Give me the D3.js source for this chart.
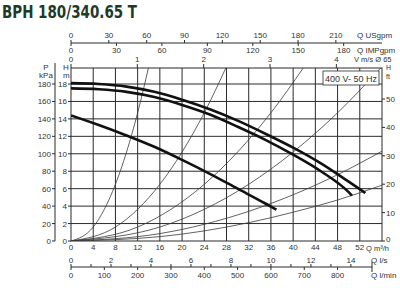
<!DOCTYPE html>
<html>
<head>
<meta charset="utf-8">
<script src="https://cdn.jsdelivr.net/npm/d3@7"></script>
<style>
  body { margin: 0; background: #fff; }
  svg { display: block; }
  text { font-family: "Liberation Sans", Arial, sans-serif; fill: #333; }
</style>
</head>
<body>
<svg id="chart" width="400" height="288"></svg>
<script>
// pump curves, [Q m3/h, H m]
const curveTop = [[0, 18.1], [5, 18.0], [10, 17.7], [15, 17.1], [20, 16.2], [25, 15.1], [30, 13.8], [35, 12.3], [40, 10.7], [45, 8.9], [50, 6.8], [53, 5.5]];
const curveMid = [[0, 17.5], [5, 17.4], [10, 17.1], [15, 16.5], [20, 15.6], [25, 14.5], [30, 13.1], [35, 11.6], [40, 9.9], [45, 8.0], [50, 5.6], [50.6, 5.2]];
const curveLow = [[0, 14.4], [5, 13.3], [10, 12.1], [15, 10.8], [20, 9.3], [25, 7.7], [30, 6.0], [35, 4.3], [37, 3.6]];

// thin system curves from the origin
const sysCurves = [
  [[0, 0], [4, 1.6], [8, 6.5], [10, 10.2], [12, 14.7], [14, 20]],
  [[0, 0], [8, 1.6], [16, 6.5], [20, 10.2], [24, 14.7], [28, 20]],
  [[0, 0], [12, 1.6], [24, 6.5], [30, 10.2], [36, 14.7], [42, 20]],
  [[0, 0], [16, 1.6], [32, 6.5], [40, 10.2], [48, 14.7], [56, 20]],
  [[0, 0], [16, 0.85], [32, 3.4], [40, 5.3], [48, 7.6], [56, 10.3]],
  [[0, 0], [16, 0.5], [32, 2.1], [40, 3.3], [48, 4.7], [56, 6.4]]
];

const qTicks = [0, 4, 8, 12, 16, 20, 24, 28, 32, 36, 40, 44, 48, 52];
const hTicks = [0, 2, 4, 6, 8, 10, 12, 14, 16, 18];
const kpaTicks = [0, 20, 40, 60, 80, 100, 120, 140, 160, 180];
const ftTicks = [0, 10, 20, 30, 40, 50];
const usTicks = [0, 30, 60, 90, 120, 150, 180, 210];
const impTicks = [0, 30, 60, 90, 120, 150, 180];
const velTicks = [0, 1, 2, 3, 4];
const lsTicks = [0, 2, 4, 6, 8, 10, 12, 14];
const lsMinor = [1, 3, 5, 7, 9, 11, 13];
const lminTicks = [0, 100, 200, 300, 400, 500, 600, 700, 800];

const Q_MAX = 56;
const svg = d3.select("#chart");

const x = d3.scaleLinear().domain([0, Q_MAX]).range([71, 382]);
const y = d3.scaleLinear().domain([0, 18]).range([241, 84]);
const yKpa = d3.scaleLinear().domain([0, 180]).range([241, 84]);
const yFt = d3.scaleLinear().domain([0, 50]).range([241, 99]);
const xUs = d3.scaleLinear().domain([0, Q_MAX * 4.403]).range(x.range());
const xImp = d3.scaleLinear().domain([0, Q_MAX * 3.666]).range(x.range());
const xVel = d3.scaleLinear().domain([0, Q_MAX / 11.946]).range(x.range());
const xLs = d3.scaleLinear().domain([0, Q_MAX / 3.6]).range(x.range());
const xLmin = d3.scaleLinear().domain([0, Q_MAX / 0.06]).range(x.range());

const pTop = 68, pBottom = 241, pLeft = 71, pRight = 382;
const ink = "#2b2b2b";

// title
svg.append("text").attr("x", 2).attr("y", 18)
  .attr("textLength", 135).attr("lengthAdjust", "spacingAndGlyphs")
  .style("font-family", "'Liberation Sans Narrow', 'DejaVu Sans Condensed', sans-serif")
  .style("font-weight", "bold").style("font-size", "17px").style("fill", "#203a29")
  .text("BPH 180/340.65 T");

// grid
const grid = svg.append("g").attr("stroke", ink).attr("stroke-width", 1);
grid.selectAll(".vg").data(qTicks.slice(1)).join("line")
  .attr("x1", d => x(d)).attr("x2", d => x(d)).attr("y1", pTop).attr("y2", pBottom);
grid.selectAll(".hg").data(hTicks.slice(1)).join("line")
  .attr("x1", pLeft).attr("x2", pRight).attr("y1", d => y(d)).attr("y2", d => y(d));
grid.append("rect").attr("x", pLeft).attr("y", pTop).attr("width", pRight - pLeft).attr("height", pBottom - pTop)
  .attr("fill", "none");

// clip
svg.append("clipPath").attr("id", "plot").append("rect")
  .attr("x", pLeft).attr("y", pTop).attr("width", pRight - pLeft).attr("height", pBottom - pTop);

const line = d3.line().x(d => x(d[0])).y(d => y(d[1])).curve(d3.curveMonotoneX);
const plot = svg.append("g").attr("clip-path", "url(#plot)");
plot.selectAll(".sys").data(sysCurves).join("path")
  .attr("d", line).attr("fill", "none").attr("stroke", "#3a3a3a").attr("stroke-width", 0.8);
plot.selectAll(".pump").data([curveTop, curveMid, curveLow]).join("path")
  .attr("d", line).attr("fill", "none").attr("stroke", "#111").attr("stroke-width", 2.6);

// voltage box
svg.append("rect").attr("x", 323).attr("y", 71).attr("width", 56).attr("height", 14)
  .attr("fill", "#fff").attr("stroke", ink).attr("stroke-width", 0.8);
svg.append("text").attr("x", 351).attr("y", 81.5).attr("text-anchor", "middle")
  .style("font-size", "9px").text("400 V- 50 Hz");

const fs = "8px";

// left m axis
const gH = svg.append("g");
gH.selectAll("line").data(hTicks).join("line")
  .attr("x1", pLeft - 3).attr("x2", pLeft).attr("y1", d => y(d)).attr("y2", d => y(d)).attr("stroke", ink);
gH.selectAll("text").data(hTicks).join("text")
  .attr("x", pLeft - 4).attr("y", d => y(d) + 3).attr("text-anchor", "end").style("font-size", fs).text(d => d);
svg.append("text").attr("x", 63).attr("y", 70).style("font-size", fs).text("H");
svg.append("text").attr("x", 63).attr("y", 78).style("font-size", fs).text("m");

// kPa axis
const gP = svg.append("g");
gP.append("line").attr("x1", 55).attr("x2", 55).attr("y1", 63).attr("y2", pBottom).attr("stroke", ink);
gP.selectAll("line.t").data(kpaTicks).join("line")
  .attr("x1", 52).attr("x2", 55).attr("y1", d => yKpa(d)).attr("y2", d => yKpa(d)).attr("stroke", ink);
gP.selectAll("text").data(kpaTicks).join("text")
  .attr("x", 51).attr("y", d => yKpa(d) + 3).attr("text-anchor", "end").style("font-size", fs).text(d => d);
svg.append("text").attr("x", 46).attr("y", 70).attr("text-anchor", "middle").style("font-size", fs).text("P");
svg.append("text").attr("x", 46).attr("y", 78).attr("text-anchor", "middle").style("font-size", fs).text("kPa");

// right ft axis
const gF = svg.append("g");
gF.selectAll("line").data(ftTicks).join("line")
  .attr("x1", pRight).attr("x2", pRight + 3).attr("y1", d => yFt(d)).attr("y2", d => yFt(d)).attr("stroke", ink);
gF.selectAll("text").data(ftTicks).join("text")
  .attr("x", pRight + 4).attr("y", d => yFt(d) + (d === 0 ? 1 : 3)).style("font-size", fs).text(d => d);
svg.append("text").attr("x", 386).attr("y", 70).style("font-size", "7px").text("H");
svg.append("text").attr("x", 386).attr("y", 79).style("font-size", "7px").text("ft");

// bottom m3/h labels
svg.append("g").selectAll("text").data(qTicks).join("text")
  .attr("x", d => x(d)).attr("y", 250).attr("text-anchor", "middle").style("font-size", fs).text(d => d);
svg.append("text").attr("x", 366).attr("y", 251).style("font-size", "7.5px").text("Q m³/h");

// top US / IMP axis
const tY = 43;
svg.append("line").attr("x1", pLeft).attr("x2", pRight).attr("y1", tY).attr("y2", tY).attr("stroke", ink);
svg.append("g").selectAll("line").data(usTicks).join("line")
  .attr("x1", d => xUs(d)).attr("x2", d => xUs(d)).attr("y1", tY - 3).attr("y2", tY).attr("stroke", ink);
svg.append("g").selectAll("text").data(usTicks).join("text")
  .attr("x", d => xUs(d)).attr("y", tY - 5).attr("text-anchor", "middle").style("font-size", fs).text(d => d);
svg.append("g").selectAll("line").data(impTicks).join("line")
  .attr("x1", d => xImp(d)).attr("x2", d => xImp(d)).attr("y1", tY).attr("y2", tY + 3).attr("stroke", ink);
svg.append("g").selectAll("text").data(impTicks).join("text")
  .attr("x", d => xImp(d)).attr("y", tY + 10).attr("text-anchor", "middle").style("font-size", fs).text(d => d);
svg.append("text").attr("x", 357).attr("y", tY - 5).style("font-size", fs).text("Q USgpm");
svg.append("text").attr("x", 357).attr("y", tY + 10).style("font-size", fs).text("Q IMPgpm");

// velocity ticks
svg.append("g").selectAll("line").data(velTicks).join("line")
  .attr("x1", d => xVel(d)).attr("x2", d => xVel(d)).attr("y1", pTop - 4).attr("y2", pTop).attr("stroke", ink);
svg.append("g").selectAll("text").data(velTicks).join("text")
  .attr("x", d => xVel(d)).attr("y", 62).attr("text-anchor", "middle").style("font-size", fs).text(d => d);
svg.append("text").attr("x", 354).attr("y", 62).style("font-size", "7.5px").text("V m/s Ø 65");

// bottom l/s / l/min axis
const bY = 267;
svg.append("line").attr("x1", pLeft).attr("x2", 372).attr("y1", bY).attr("y2", bY).attr("stroke", ink);
svg.append("line").attr("x1", 372).attr("x2", 372).attr("y1", bY - 5).attr("y2", bY + 5).attr("stroke", ink);
svg.append("g").selectAll("line").data(lsTicks.concat(lsMinor)).join("line")
  .attr("x1", d => xLs(d)).attr("x2", d => xLs(d)).attr("y1", bY - 3).attr("y2", bY).attr("stroke", ink);
svg.append("g").selectAll("text").data(lsTicks).join("text")
  .attr("x", d => xLs(d)).attr("y", bY - 4).attr("text-anchor", "middle").style("font-size", fs).text(d => d);
svg.append("g").selectAll("line").data(lminTicks).join("line")
  .attr("x1", d => xLmin(d)).attr("x2", d => xLmin(d)).attr("y1", bY).attr("y2", bY + 3).attr("stroke", ink);
svg.append("g").selectAll("text").data(lminTicks).join("text")
  .attr("x", d => xLmin(d)).attr("y", bY + 11).attr("text-anchor", "middle").style("font-size", fs).text(d => d);
svg.append("text").attr("x", 371).attr("y", bY - 4).style("font-size", fs).text("Q l/s");
svg.append("text").attr("x", 371).attr("y", bY + 11).style("font-size", fs).text("Q l/min");
</script>
</body>
</html>
